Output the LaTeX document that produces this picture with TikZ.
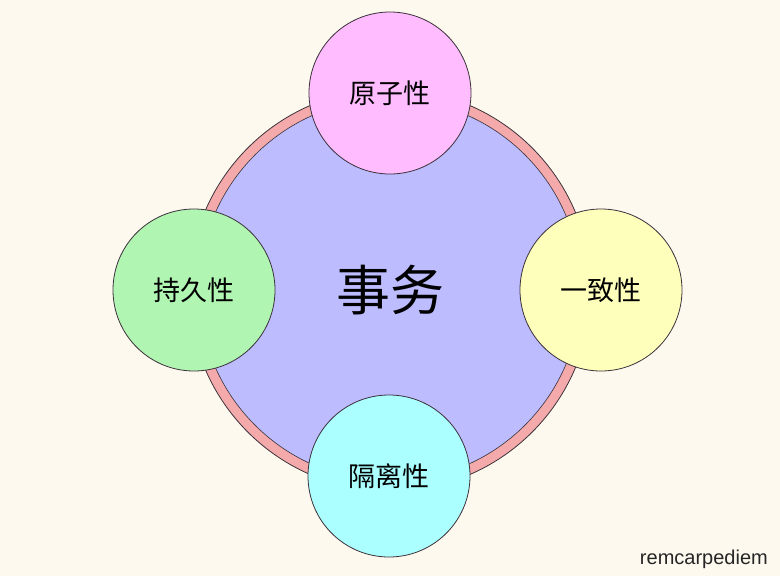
\documentclass[tikz,border=0pt]{standalone}
\usepackage{fontspec}
\newfontfamily\cjk{Noto Sans CJK SC}
\newfontfamily\wmfont{Liberation Sans}
\usepackage{xcolor}
\definecolor{bgcream}{RGB}{253, 249, 238}
\definecolor{ringpink}{RGB}{244, 170, 170}
\definecolor{coreblue}{RGB}{188, 188, 255}
\definecolor{atompink}{RGB}{255, 188, 255}
\definecolor{conyellow}{RGB}{255, 255, 188}
\definecolor{isocyan}{RGB}{172, 255, 255}
\definecolor{durgreen}{RGB}{176, 246, 178}
\definecolor{edgegray}{RGB}{60, 50, 60}
\usepackage{tikz}
\usetikzlibrary{positioning}

\begin{document}
\begin{tikzpicture}[
  x=1pt, y=-1pt,
  ring/.style={circle, draw=edgegray, line width=0.8pt, fill=ringpink, minimum size=402pt, inner sep=0pt},
  core/.style={circle, draw=edgegray, line width=0.6pt, fill=coreblue, minimum size=382pt, inner sep=0pt, font=\fontsize{54}{60}\selectfont\cjk},
  prop/.style={circle, draw=edgegray, line width=0.8pt, minimum size=162pt, inner sep=0pt, font=\fontsize{27}{30}\selectfont\cjk}
]
  % Background
  \fill[bgcream] (0,0) rectangle (780,576);
  \useasboundingbox (0,0) rectangle (780,576);

  % Nodes
  \node[ring] (ring) at (390,290) {};
  \node[core] (txn) at (ring.center) {事务};
  \node[prop, fill=atompink] (atomic) at (390,93) {原子性};
  \node[prop, fill=durgreen] (durable) at (194,290) {持久性};
  \node[prop, fill=conyellow] (consist) at (601,290) {一致性};
  \node[prop, fill=isocyan] (isolate) at (389,476) {隔离性};

  % Watermark
  \node[anchor=base east, inner sep=0pt, font=\fontsize{20}{22}\selectfont\wmfont, text=black!85] (mark) at (768,564) {remcarpediem};
\end{tikzpicture}
\end{document}
